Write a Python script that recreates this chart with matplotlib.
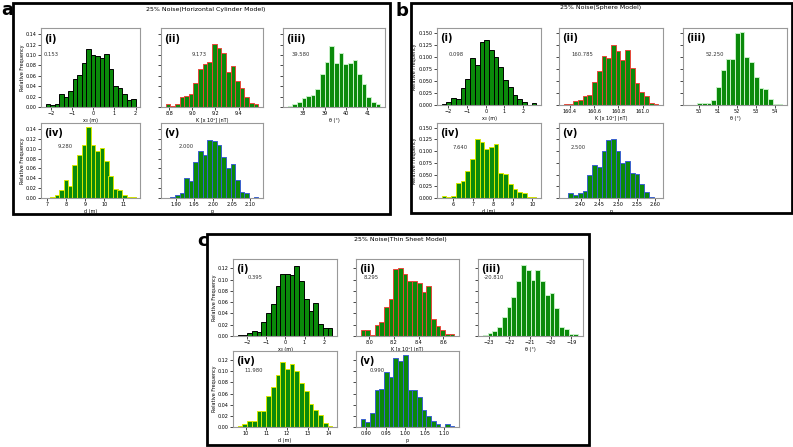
import numpy as np
import matplotlib.pyplot as plt
from matplotlib.patches import Rectangle

W, H = 793, 447

# ---- data: relative frequencies (20 bins each) and bin ranges ----
# a) horizontal cylinder
a_x0 = [0.006, 0.004, 0.006, 0.025, 0.019, 0.031, 0.054, 0.062, 0.084, 0.112,
        0.101, 0.098, 0.094, 0.103, 0.074, 0.040, 0.036, 0.026, 0.013, 0.015]
a_x0_rng = (-2.25, 2.0)
a_k = [0.005, 0.0025, 0.0064, 0.019, 0.022, 0.025, 0.046, 0.073, 0.083, 0.086,
       0.121, 0.113, 0.104, 0.067, 0.079, 0.051, 0.036, 0.020, 0.0076, 0.0064]
a_k_rng = (8.77, 9.57)
a_th = [0.0026, 0.005, 0.009, 0.017, 0.021, 0.024, 0.035, 0.064, 0.087, 0.117,
        0.085, 0.105, 0.083, 0.085, 0.091, 0.064, 0.045, 0.019, 0.010, 0.005]
a_th_rng = (37.28, 41.6)
a_d = [0.0008, 0.003, 0.007, 0.016, 0.036, 0.024, 0.068, 0.088, 0.108, 0.145,
       0.108, 0.096, 0.101, 0.076, 0.045, 0.019, 0.016, 0.007, 0.0013, 0.0013]
a_d_rng = (6.9, 11.65)
a_p = [0.001, 0.002, 0.0067, 0.011, 0.041, 0.034, 0.073, 0.095, 0.088, 0.118,
       0.115, 0.107, 0.084, 0.061, 0.070, 0.036, 0.013, 0.011, 0.0, 0.003]
a_p_rng = (1.873, 2.122)

# b) sphere
b_x0 = [0.002, 0.0055, 0.014, 0.0125, 0.035, 0.053, 0.097, 0.082, 0.130, 0.135,
        0.113, 0.099, 0.079, 0.052, 0.037, 0.021, 0.013, 0.007, 0.0, 0.0035]
b_x0_rng = (-2.35, 2.7)
b_k = [0.0014, 0.0014, 0.009, 0.011, 0.018, 0.021, 0.047, 0.071, 0.101, 0.098,
       0.125, 0.112, 0.094, 0.114, 0.076, 0.046, 0.026, 0.019, 0.004, 0.0014]
b_k_rng = (160.35, 161.13)
b_th = [0.001, 0.0, 0.004, 0.004, 0.004, 0.011, 0.038, 0.073, 0.095, 0.095,
        0.150, 0.152, 0.100, 0.090, 0.059, 0.035, 0.033, 0.012, 0.002, 0.002]
b_th_rng = (49.43, 54.4)
b_d = [0.005, 0.003, 0.005, 0.031, 0.037, 0.057, 0.084, 0.125, 0.120, 0.105,
       0.108, 0.115, 0.053, 0.051, 0.030, 0.019, 0.013, 0.011, 0.002, 0.002]
b_d_rng = (5.41, 10.2)
b_p = [0.0007, 0.010, 0.007, 0.010, 0.014, 0.050, 0.070, 0.067, 0.099, 0.124,
       0.125, 0.099, 0.074, 0.078, 0.053, 0.051, 0.029, 0.012, 0.003, 0.001]
b_p_rng = (2.355, 2.608)

# c) thin sheet
c_x0 = [0.0012, 0.0012, 0.006, 0.008, 0.007, 0.024, 0.040, 0.057, 0.089, 0.110,
        0.110, 0.108, 0.124, 0.098, 0.066, 0.045, 0.058, 0.022, 0.014, 0.014]
c_x0_rng = (-2.47, 2.44)
c_k = [0.010, 0.010, 0.002, 0.020, 0.024, 0.052, 0.066, 0.118, 0.120, 0.110,
       0.098, 0.098, 0.094, 0.078, 0.088, 0.030, 0.018, 0.010, 0.004, 0.004]
c_k_rng = (7.93, 8.69)
c_th = [0.0012, 0.0047, 0.0083, 0.0165, 0.034, 0.052, 0.070, 0.098, 0.126, 0.117,
        0.099, 0.117, 0.098, 0.073, 0.076, 0.049, 0.0165, 0.013, 0.0035, 0.0035]
c_th_rng = (-23.28, -18.67)
c_d = [0.0024, 0.0048, 0.011, 0.011, 0.029, 0.029, 0.055, 0.071, 0.094, 0.116,
       0.105, 0.113, 0.101, 0.079, 0.064, 0.041, 0.031, 0.022, 0.007, 0.0012]
c_d_rng = (9.61, 14.2)
c_p = [0.014, 0.0095, 0.026, 0.066, 0.069, 0.098, 0.090, 0.124, 0.119, 0.130,
       0.067, 0.067, 0.053, 0.030, 0.019, 0.011, 0.006, 0.0006, 0.005, 0.0012]
c_p_rng = (0.886, 1.126)

# values printed in each subplot
a_vals = ['0.153', '9.173', '39.580', '9.280', '2.000']
b_vals = ['0.098', '160.785', '52.250', '7.640', '2.500']
c_vals = ['0.395', '8.295', '-20.810', '11.980', '0.990']

# ticks
a_xt = [[-2, -1, 0, 1, 2], [8.8, 9.0, 9.2, 9.4], [38, 39, 40, 41], [7, 8, 9, 10, 11], [1.90, 1.95, 2.00, 2.05, 2.10]]
b_xt = [[-2, -1, 0, 1, 2], [160.4, 160.6, 160.8, 161.0], [50, 51, 52, 53, 54], [6, 7, 8, 9, 10], [2.40, 2.45, 2.50, 2.55, 2.60]]
c_xt = [[-2, -1, 0, 1, 2], [8.0, 8.2, 8.4, 8.6], [-23, -22, -21, -20, -19], [10, 11, 12, 13, 14], [0.90, 0.95, 1.00, 1.05, 1.10]]
a_yt = ['0.00', '0.02', '0.04', '0.06', '0.08', '0.10', '0.12', '0.14']
b_yt = ['0.000', '0.025', '0.050', '0.075', '0.100', '0.125', '0.150']
c_yt = ['0.00', '0.02', '0.04', '0.06', '0.08', '0.10', '0.12']

sub_labels = ['(i)', '(ii)', '(iii)', '(iv)', '(v)']
xlabels = ['x₀ (m)', 'K [x 10³] (nT)', 'θ (°)', 'd (m)', 'p']
edgecolors = ['black', '#e8473a', '#c8f0c8', '#d8e800', '#3a5fd0']

# ---- layout in pixels ----
def rect(x0, y0, x1, y1):
    return [x0 / W, 1 - y1 / H, (x1 - x0) / W, (y1 - y0) / H]

panels = [
    dict(name='a', title='25% Noise(Horizontal Cylinder Model)', box=(13, 3, 390, 214),
         letter=(7, 10), tpos=(206, 10),
         axes=[(41, 28, 140, 107), (161, 28, 263, 107), (283, 28, 385, 107),
               (41, 123, 140, 198), (161, 123, 263, 198)],
         data=[(a_x0, a_x0_rng), (a_k, a_k_rng), (a_th, a_th_rng), (a_d, a_d_rng), (a_p, a_p_rng)],
         vals=a_vals, xt=a_xt, yt=a_yt,
         vpos=[(0.03, 0.66), (0.3, 0.66), (0.08, 0.66), (0.17, 0.68), (0.17, 0.68)]),
    dict(name='b', title='25% Noise(Sphere Model)', box=(411, 3, 792, 213),
         letter=(402, 11), tpos=(601, 8),
         axes=[(437, 28, 541, 105), (559, 28, 663, 105), (683, 28, 787, 105),
               (437, 123, 541, 198), (559, 123, 663, 198)],
         data=[(b_x0, b_x0_rng), (b_k, b_k_rng), (b_th, b_th_rng), (b_d, b_d_rng), (b_p, b_p_rng)],
         vals=b_vals, xt=b_xt, yt=b_yt,
         vpos=[(0.11, 0.65), (0.12, 0.65), (0.22, 0.65), (0.15, 0.67), (0.11, 0.67)]),
    dict(name='c', title='25% Noise(Thin Sheet Model)', box=(207, 234, 589, 445),
         letter=(203, 241), tpos=(400, 239),
         axes=[(233, 259, 337, 336), (356, 259, 459, 336), (478, 259, 583, 336),
               (233, 351, 337, 427), (356, 351, 459, 427)],
         data=[(c_x0, c_x0_rng), (c_k, c_k_rng), (c_th, c_th_rng), (c_d, c_d_rng), (c_p, c_p_rng)],
         vals=c_vals, xt=c_xt, yt=c_yt,
         vpos=[(0.14, 0.76), (0.07, 0.76), (0.05, 0.76), (0.11, 0.75), (0.13, 0.75)]),
]

fig = plt.figure(figsize=(W / 100, H / 100), dpi=100)

for pn in panels:
    x0, y0, x1, y1 = pn['box']
    fig.patches.append(Rectangle((x0 / W, 1 - y1 / H), (x1 - x0) / W, (y1 - y0) / H,
                                 transform=fig.transFigure, fill=False, lw=2.0,
                                 edgecolor='black', zorder=0))
    fig.text(pn['letter'][0] / W, 1 - pn['letter'][1] / H, pn['name'], fontsize=13,
             fontweight='bold', ha='center', va='center')
    fig.text(pn['tpos'][0] / W, 1 - pn['tpos'][1] / H, pn['title'], fontsize=4.5,
             ha='center', va='center')
    first = None
    ytv = [float(t) for t in pn['yt']]
    for i, r in enumerate(pn['axes']):
        ax = fig.add_axes(rect(*r), sharey=first)
        if first is None:
            first = ax
        h, (lo, hi) = pn['data'][i]
        edges = np.linspace(lo, hi, len(h) + 1)
        ax.bar(edges[:-1], h, width=np.diff(edges), align='edge', color='#0a8a0a',
               edgecolor=edgecolors[i], linewidth=0.7)
        ax.set_xticks(pn['xt'][i])
        ax.set_yticks(ytv, pn['yt'])
        ax.set_xlabel(xlabels[i], fontsize=3.5, labelpad=1)
        ax.tick_params(labelsize=3.5, length=2, width=0.5, pad=1)
        for s in ax.spines.values():
            s.set_edgecolor('#999999')
            s.set_linewidth(0.8)
        if i in (0, 3):
            ax.set_ylabel('Relative Frequency', fontsize=3.5, labelpad=1)
        else:
            ax.tick_params(labelleft=False)
        ax.text(0.03, 0.93, sub_labels[i], transform=ax.transAxes, fontsize=7,
                fontweight='bold', va='top', ha='left')
        vx, vy = pn['vpos'][i]
        ax.text(vx, vy, pn['vals'][i], transform=ax.transAxes, fontsize=3.8,
                va='center', ha='left', color='#333333')
    first.set_ylim(0, max(max(d[0]) for d in pn['data']) * 1.05)

fig.savefig('out.png', dpi=100)
